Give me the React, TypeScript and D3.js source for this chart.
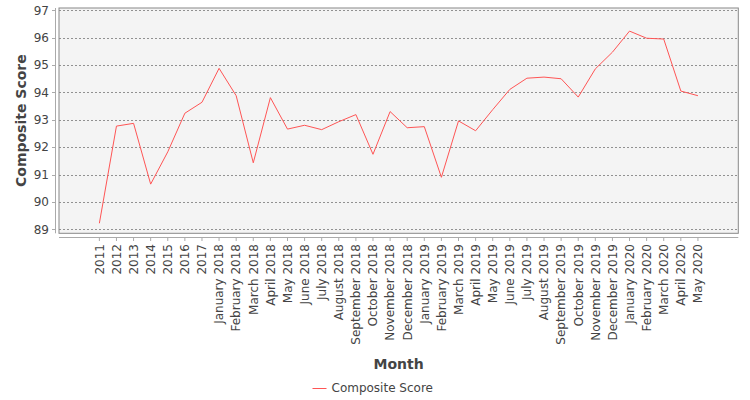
import React from "react";
import * as d3 from "d3";

const categories: string[] = [
  "2011", "2012", "2013", "2014", "2015", "2016", "2017",
  "January 2018", "February 2018", "March 2018", "April 2018", "May 2018", "June 2018",
  "July 2018", "August 2018", "September 2018", "October 2018", "November 2018", "December 2018",
  "January 2019", "February 2019", "March 2019", "April 2019", "May 2019", "June 2019",
  "July 2019", "August 2019", "September 2019", "October 2019", "November 2019", "December 2019",
  "January 2020", "February 2020", "March 2020", "April 2020", "May 2020",
];

const compositeScore: number[] = [
  89.22, 92.77, 92.87, 90.65, 91.83, 93.24, 93.64,
  94.88, 93.88, 91.43, 93.81, 92.66, 92.8,
  92.64, 92.93, 93.19, 91.74, 93.3, 92.71,
  92.75, 90.9, 92.96, 92.6, 93.37, 94.11,
  94.52, 94.56, 94.5, 93.83, 94.86, 95.47,
  96.24, 95.98, 95.95, 94.05, 93.88,
];

const yTicks: number[] = [89, 90, 91, 92, 93, 94, 95, 96, 97];

const seriesName = "Composite Score";
const xTitle = "Month";
const yTitle = "Composite Score";

export default function App() {
  const W = 750;
  const H = 400;
  const plotL = 59;
  const plotR = 738.3;
  const plotT = 8;
  const plotB = 233.3;

  const x = d3
    .scalePoint<string>()
    .domain(categories)
    .range([plotL, plotR])
    .padding(2.36);

  const y = d3.scaleLinear().domain([89, 97]).range([229.3, 10.3]);

  const line = d3
    .line<number>()
    .x((_, i) => x(categories[i]) as number)
    .y((d) => y(d));

  const font = "'DejaVu Sans', sans-serif";
  const textColor = "#444444";

  return (
    <svg
      width={W}
      height={H}
      style={{ position: "absolute", left: 0, top: 0, background: "#fff" }}
      fontFamily={font}
    >
      <rect x={0} y={0} width={W} height={H} fill="#ffffff" />
      {/* plot background */}
      <rect
        x={plotL}
        y={plotT}
        width={plotR - plotL}
        height={plotB - plotT}
        fill="#f4f4f4"
      />
      {/* gridlines */}
      {yTicks.map((t) => (
        <line
          key={"g" + t}
          x1={plotL}
          x2={plotR}
          y1={Math.round(y(t)) + 0.5}
          y2={Math.round(y(t)) + 0.5}
          stroke="#777"
          strokeWidth={0.8}
          strokeDasharray="2,2"
        />
      ))}
      {/* plot border */}
      <rect
        x={plotL}
        y={plotT}
        width={plotR - plotL}
        height={plotB - plotT}
        fill="none"
        stroke="#888"
        strokeWidth={1}
      />
      {/* y axis */}
      <line x1={55.5} x2={55.5} y1={plotT} y2={plotB} stroke="#aaa" strokeWidth={1} />
      {yTicks.map((t) => (
        <g key={"yt" + t}>
          <line
            x1={52}
            x2={55.5}
            y1={Math.round(y(t)) + 0.5}
            y2={Math.round(y(t)) + 0.5}
            stroke="#aaa"
          />
          <text
            x={49}
            y={y(t)}
            dy="0.36em"
            textAnchor="end"
            fontSize={12}
            fill={textColor}
          >
            {t}
          </text>
        </g>
      ))}
      {/* x axis */}
      <line x1={plotL} x2={plotR} y1={237.5} y2={237.5} stroke="#aaa" strokeWidth={1} />
      {categories.map((c) => {
        const cx = x(c) as number;
        return (
          <g key={"xt" + c}>
            <line x1={cx} x2={cx} y1={237.5} y2={241} stroke="#aaa" />
            <text
              transform={`translate(${cx + 4.3},244) rotate(-90)`}
              textAnchor="end"
              fontSize={12}
              fill={textColor}
            >
              {c}
            </text>
          </g>
        );
      })}
      {/* series line */}
      <path
        d={line(compositeScore) || ""}
        fill="none"
        stroke="#ff5555"
        strokeWidth={1}
      />
      {/* axis titles */}
      <text
        x={(plotL + plotR) / 2}
        y={368.5}
        textAnchor="middle"
        fontSize={14}
        fontWeight="bold"
        fill={textColor}
      >
        {xTitle}
      </text>
      <text
        transform={`translate(26,${(plotT + plotB) / 2}) rotate(-90)`}
        textAnchor="middle"
        fontSize={14}
        fontWeight="bold"
        fill={textColor}
      >
        {yTitle}
      </text>
      {/* legend */}
      <line x1={312.5} x2={326.5} y1={388.5} y2={388.5} stroke="#ff5555" strokeWidth={1} />
      <text x={331.5} y={392} fontSize={12} fill={textColor}>
        {seriesName}
      </text>
    </svg>
  );
}
